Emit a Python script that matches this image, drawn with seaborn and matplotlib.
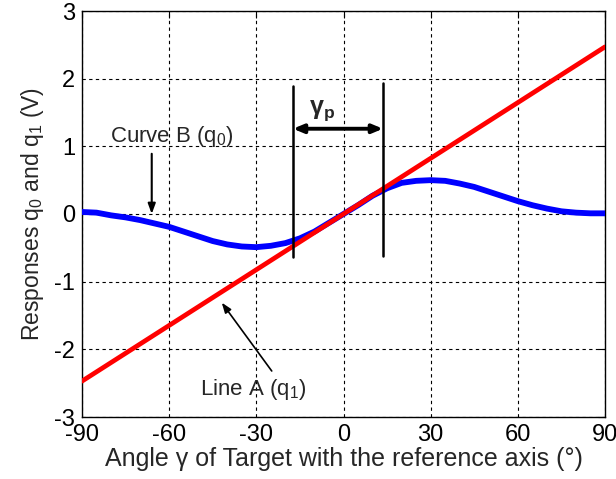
import numpy as np
import pandas as pd
import matplotlib
matplotlib.use("Agg")
import matplotlib.pyplot as plt
import seaborn as sns

# ---- data ----
angle_b = [-90, -85, -80, -75, -70, -65, -60, -55, -50, -45, -40, -35, -30, -25, -20, -15, -10, -5,
           0, 5, 10, 15, 20, 25, 30, 35, 40, 45, 50, 55, 60, 65, 70, 75, 80, 85, 90]
curve_b = [0.03, 0.02, -0.02, -0.05, -0.09, -0.14, -0.19, -0.26, -0.33, -0.40, -0.45, -0.48, -0.49,
           -0.47, -0.43, -0.36, -0.26, -0.13, 0.0, 0.13, 0.27, 0.38, 0.46, 0.49, 0.50, 0.49, 0.45,
           0.40, 0.33, 0.26, 0.19, 0.13, 0.08, 0.04, 0.02, 0.01, 0.01]
angle_a = [-90, 0, 90]
line_a = [-2.47, 0.0, 2.47]

x_ticks = [-90, -60, -30, 0, 30, 60, 90]
y_ticks = [-3, -2, -1, 0, 1, 2, 3]
gamma_p_bounds = [-17.4, 13.6]

df_b = pd.DataFrame({"angle": angle_b, "q": curve_b})
df_a = pd.DataFrame({"angle": angle_a, "q": line_a})

sns.set_style("white")
plt.rcParams["font.family"] = ["Liberation Sans", "DejaVu Sans"]
plt.rcParams["mathtext.fontset"] = "custom"
plt.rcParams["mathtext.rm"] = "Liberation Sans"
plt.rcParams["mathtext.it"] = "Liberation Sans:italic"
plt.rcParams["mathtext.bf"] = "Liberation Sans:bold"
plt.rcParams["axes.unicode_minus"] = False

fig = plt.figure(figsize=(6.16, 4.79), dpi=100)
ax = fig.add_axes([82 / 616, 1 - 417 / 479, (605 - 82) / 616, (417 - 11) / 479])

sns.lineplot(data=df_b, x="angle", y="q", ax=ax, color="#0000ff", linewidth=4.2, zorder=3)
sns.lineplot(data=df_a, x="angle", y="q", ax=ax, color="#ff0000", linewidth=3.4, zorder=4)

ax.set_xlim(-90, 90)
ax.set_ylim(-3, 3)
ax.set_xticks(x_ticks)
ax.set_yticks(y_ticks)
ax.grid(True, color="black", linestyle=(0, (3, 3)), linewidth=0.8)
for s in ax.spines.values():
    s.set_visible(True)
    s.set_color("black")
    s.set_linewidth(1.0)
ax.tick_params(direction="in", length=5, width=0.8, top=True, right=True,
               labelsize=17, colors="black", pad=5)

ax.set_xlabel("Angle γ of Target with the reference axis (°)", fontsize=18, labelpad=1)
ax.set_ylabel("Responses q$_0$ and q$_1$ (V)", fontsize=16.5, labelpad=6)

# vertical markers
ax.plot([gamma_p_bounds[0]] * 2, [-0.64, 1.89], color="black", lw=1.8, zorder=5)
ax.plot([gamma_p_bounds[1]] * 2, [-0.62, 1.93], color="black", lw=1.8, zorder=5)
ax.annotate("", xy=(gamma_p_bounds[1], 1.26), xytext=(gamma_p_bounds[0], 1.26),
            arrowprops=dict(arrowstyle="<|-|>,head_length=0.6,head_width=0.25", color="black", lw=2.8,
                            shrinkA=0, shrinkB=0), zorder=6)
ax.text(-7.4, 1.53, "γ$_\\mathbf{p}$", fontsize=18, fontweight="bold", ha="center", va="center")

# Curve B annotation
ax.text(-59.1, 1.06, "Curve B (q$_0$)", fontsize=16, ha="center", va="baseline")
ax.annotate("", xy=(-66.0, 0.0), xytext=(-66.0, 0.89),
            arrowprops=dict(arrowstyle="-|>,head_length=0.6,head_width=0.22", color="black", lw=1.5,
                            shrinkA=0, shrinkB=0), zorder=6)

# Line A annotation
ax.text(-31.0, -2.6, "Line A (q$_1$)", fontsize=16, ha="center", va="center")
ax.annotate("", xy=(-41.9, -1.31), xytext=(-24.7, -2.32),
            arrowprops=dict(arrowstyle="-|>,head_length=0.6,head_width=0.22", color="black", lw=1.2,
                            shrinkA=0, shrinkB=0), zorder=6)

fig.savefig("out.png", dpi=100, facecolor="white")
